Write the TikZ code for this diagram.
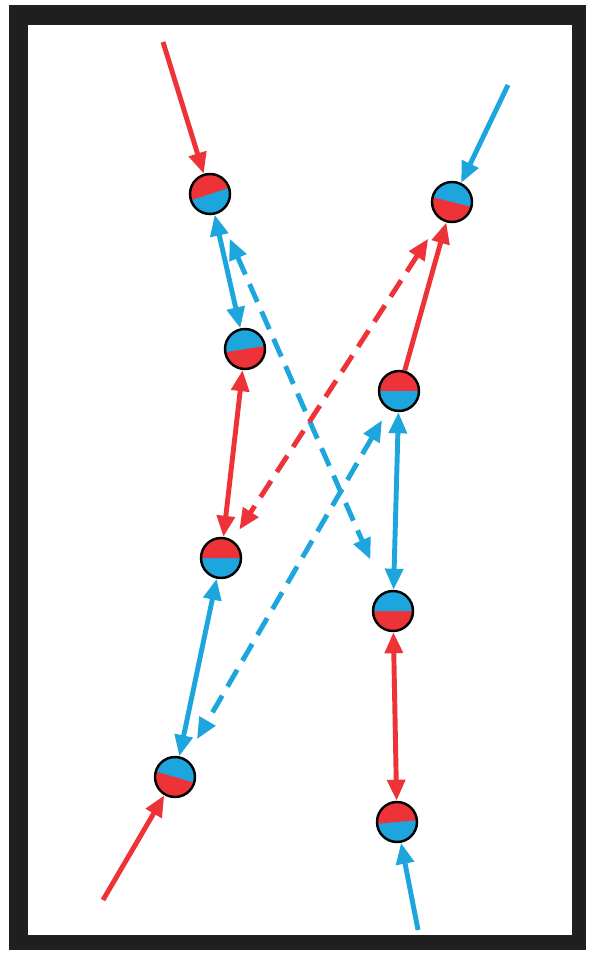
\documentclass[tikz,border=0pt]{standalone}
\usepackage{tikz}
\usepackage{xcolor}
\usetikzlibrary{arrows.meta}
\definecolor{spinred}{HTML}{EE3338}
\definecolor{spinblue}{HTML}{1DA5DE}
\tikzset{
  ball/.style n args={3}{circle,draw=black,line width=1.4pt,minimum size=0.8cm,inner sep=0pt,fill=#2,
    path picture={\fill[#1] (path picture bounding box.center) ++(#3:0.5cm) arc[start angle=#3,end angle=#3+180,radius=0.5cm] -- cycle;}},
  flow/.style={line width=2.8pt,-{Triangle[length=12pt,width=10pt]}},
  swap/.style={line width=2.8pt,{Triangle[length=12pt,width=10pt]}-{Triangle[length=12pt,width=10pt]}},
  link/.style={swap,dash pattern=on 11pt off 6pt}
}
\begin{document}
\begin{tikzpicture}[x=0.02cm,y=0.02cm]
\useasboundingbox (0,0) rectangle (594,-955);
\fill[white] (0,0) rectangle (594,-955);
\fill[black!88] (9,-5) rectangle (586,-950);
\fill[white] (28,-25) rectangle (572,-935);
\node[ball={spinred}{spinblue}{18}] (a) at (210,-194) {};
\node[ball={spinblue}{spinred}{-14}] (b) at (452,-202) {};
\node[ball={spinblue}{spinred}{9}] (c) at (245,-349) {};
\node[ball={spinred}{spinblue}{0}] (d) at (399,-391) {};
\node[ball={spinred}{spinblue}{0}] (e) at (221,-558) {};
\node[ball={spinblue}{spinred}{0}] (f) at (393,-611) {};
\node[ball={spinblue}{spinred}{-16}] (g) at (175,-777) {};
\node[ball={spinred}{spinblue}{5}] (h) at (397,-822) {};
\coordinate (inred) at (163,-42);
\coordinate (inblue) at (508,-85);
\coordinate (outred) at (103,-900);
\coordinate (outblue) at (418,-930);
\draw[flow,spinred] (inred) -- (a);
\draw[flow,spinblue] (inblue) -- (b);
\draw[swap,spinblue] (a) -- (c);
\draw[link,spinblue,shorten <=0.55cm,shorten >=0.7cm] (a) -- (f);
\draw[swap,spinred] (c) -- (e);
\draw[link,spinred,shorten <=0.45cm,shorten >=0.25cm] (b) -- (e);
\draw[flow,spinred] (d) -- (b);
\draw[swap,spinblue] (d) -- (f);
\draw[link,spinblue,shorten <=0.25cm,shorten >=0.45cm] (d) -- (g);
\draw[swap,spinblue] (e) -- (g);
\draw[swap,spinred] (f) -- (h);
\draw[flow,spinred] (outred) -- (g);
\draw[flow,spinblue] (outblue) -- (h);
\end{tikzpicture}
\end{document}
